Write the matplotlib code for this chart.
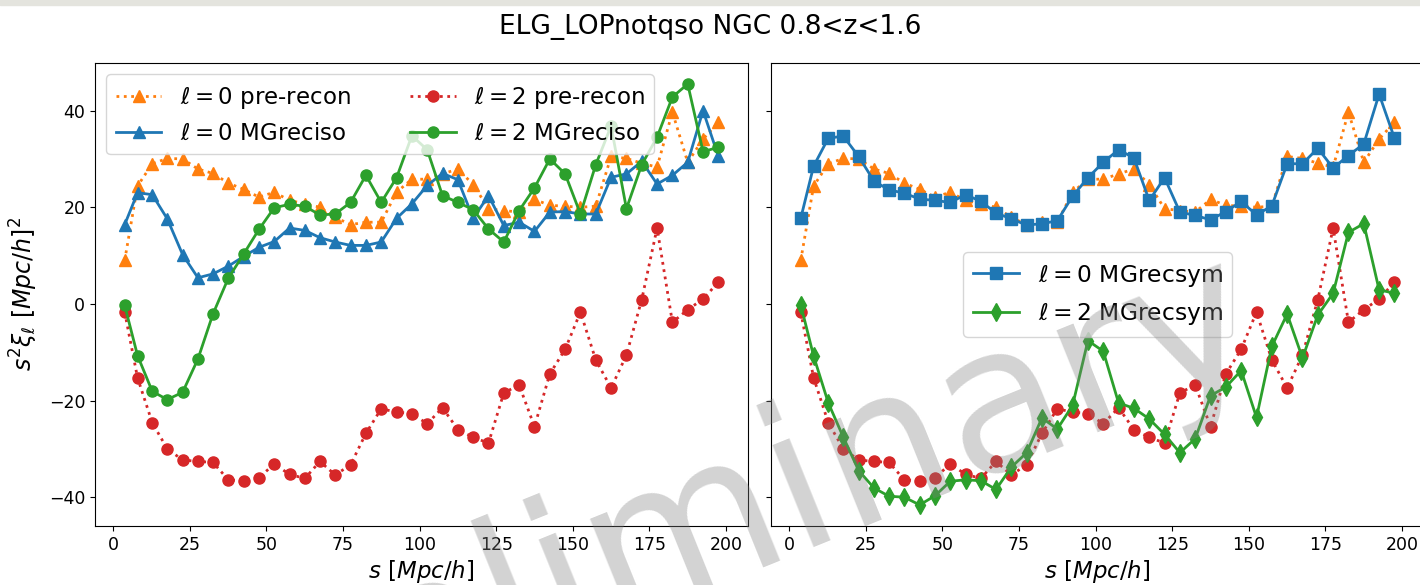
import matplotlib
matplotlib.use('Agg')
import matplotlib.pyplot as plt
from matplotlib.patches import Rectangle

# separation bins (Mpc/h)
s = [3.8, 8.0, 12.8, 17.7, 22.7, 27.7, 32.6, 37.6, 42.6, 47.6, 52.6, 57.6, 62.6,
     67.5, 72.5, 77.5, 82.5, 87.5, 92.5, 97.5, 102.5, 107.5, 112.5, 117.5, 122.5,
     127.5, 132.5, 137.5, 142.5, 147.5, 152.5, 157.5, 162.5, 167.5, 172.5, 177.5,
     182.5, 187.5, 192.5, 197.5]

xi0_pre = [9.0, 24.4, 29.0, 30.1, 30.0, 27.9, 27.0, 25.0, 23.7, 22.1, 23.1, 21.4, 20.7,
           20.0, 17.9, 16.4, 16.9, 16.9, 23.1, 25.8, 25.8, 26.9, 27.9, 24.7, 19.7,
           19.3, 19.0, 21.6, 20.4, 20.2, 20.0, 20.2, 30.5, 30.1, 29.1, 28.3,
           39.7, 29.3, 34.1, 37.6]
xi2_pre = [-1.7, -15.3, -24.6, -30.0, -32.3, -32.6, -32.8, -36.4, -36.6, -36.0, -33.1, -35.3, -36.1,
           -32.6, -35.4, -33.3, -26.8, -21.7, -22.4, -22.7, -24.8, -21.5, -26.0, -27.6, -28.8,
           -18.4, -16.8, -25.4, -14.5, -9.4, -1.7, -11.6, -17.4, -10.6, 0.9, 15.7,
           -3.8, -1.2, 1.0, 4.5]
xi0_iso = [16.4, 23.0, 22.6, 17.6, 10.2, 5.4, 6.2, 7.8, 9.8, 11.7, 12.9, 15.7, 15.2,
           13.7, 12.8, 12.1, 12.1, 12.8, 17.7, 20.7, 24.5, 27.0, 25.7, 17.7, 22.4,
           16.2, 16.9, 15.0, 19.0, 19.1, 18.6, 18.6, 26.2, 26.9, 29.5, 24.8,
           26.6, 29.3, 40.0, 30.5]
xi2_iso = [-0.3, -10.7, -18.1, -19.8, -18.3, -11.4, -2.1, 5.3, 10.3, 15.4, 19.9, 20.6, 20.2,
           18.4, 18.6, 21.0, 26.6, 21.0, 26.1, 34.8, 31.9, 22.4, 21.0, 19.5, 15.5,
           12.8, 19.3, 24.0, 30.0, 26.9, 18.6, 28.8, 36.8, 19.7, 28.8, 34.5,
           42.8, 45.5, 31.5, 32.4]
xi0_sym = [17.7, 28.5, 34.3, 34.7, 30.5, 25.4, 23.6, 22.9, 21.7, 21.4, 21.0, 22.6, 21.2,
           18.8, 17.6, 16.3, 16.6, 17.2, 22.3, 26.1, 29.3, 31.9, 30.2, 21.4, 26.1,
           19.0, 18.3, 17.4, 19.1, 21.2, 18.4, 20.3, 29.0, 29.0, 32.2, 28.1,
           30.7, 33.1, 43.4, 34.3]
xi2_sym = [-0.2, -10.8, -20.5, -27.6, -34.5, -38.1, -39.8, -40.0, -41.6, -39.7, -36.7, -36.4, -36.6,
           -38.4, -33.8, -30.8, -23.6, -25.9, -21.0, -7.6, -9.8, -20.5, -21.6, -23.8, -27.0,
           -30.8, -27.9, -19.0, -17.2, -13.8, -23.5, -8.8, -2.1, -11.2, -2.3, 2.2,
           14.8, 16.6, 2.9, 2.2]

title = 'ELG_LOPnotqso NGC 0.8<z<1.6'
ms = 8
lw = 2.0

fig = plt.figure(figsize=(14.2, 5.85), dpi=100)
ax1 = fig.add_axes([0.0669, 0.1009, 0.4599, 0.7915])
ax2 = fig.add_axes([0.543, 0.1009, 0.4599, 0.7915], sharey=ax1)

# left: pre-recon vs MGreciso
h0p, = ax1.plot(s, xi0_pre, ':^', color='C1', ms=ms, lw=lw, label=r'$\ell=0$ pre-recon')
h2p, = ax1.plot(s, xi2_pre, ':o', color='C3', ms=ms, lw=lw, label=r'$\ell=2$ pre-recon')
h0i, = ax1.plot(s, xi0_iso, '-^', color='C0', ms=ms, lw=lw, label=r'$\ell=0$ MGreciso')
h2i, = ax1.plot(s, xi2_iso, '-o', color='C2', ms=ms, lw=lw, label=r'$\ell=2$ MGreciso')
ax1.legend(handles=[h0p, h0i, h2p, h2i], ncol=2, loc='upper left', fontsize=16.5,
           columnspacing=2.6)

# right: pre-recon vs MGrecsym
ax2.plot(s, xi0_pre, ':^', color='C1', ms=ms, lw=lw)
ax2.plot(s, xi2_pre, ':o', color='C3', ms=ms, lw=lw)
ax2.plot(s, xi0_sym, '-s', color='C0', ms=ms, lw=lw, label=r'$\ell=0$ MGrecsym')
ax2.plot(s, xi2_sym, '-d', color='C2', ms=ms + 1, lw=lw, label=r'$\ell=2$ MGrecsym')
ax2.legend(loc='center', fontsize=16.8)

for ax in (ax1, ax2):
    ax.set_xlabel(r'$s\ [Mpc/h]$', fontsize=16.5, labelpad=3)
    ax.tick_params(labelsize=12.5)
    ax.set_xticks([0, 25, 50, 75, 100, 125, 150, 175, 200])
ax2.tick_params(labelleft=False)
ax1.set_ylabel(r'$s^2\xi_{\ell}\ [Mpc/h]^2$', fontsize=17, labelpad=6)

fig.suptitle(title, fontsize=19, y=0.953, va='center')

fig.text(0.506, 0.116, 'Preliminary', fontsize=145, color='gray', alpha=0.35,
         rotation=22, rotation_mode='anchor', ha='center', va='center', zorder=10)

# thin grey strip along the top edge
fig.patches.append(Rectangle((0, 1 - 5 / 585), 1, 5 / 585, transform=fig.transFigure,
                             color='#e4e4de', zorder=0))

fig.savefig('out.png', dpi=100)
